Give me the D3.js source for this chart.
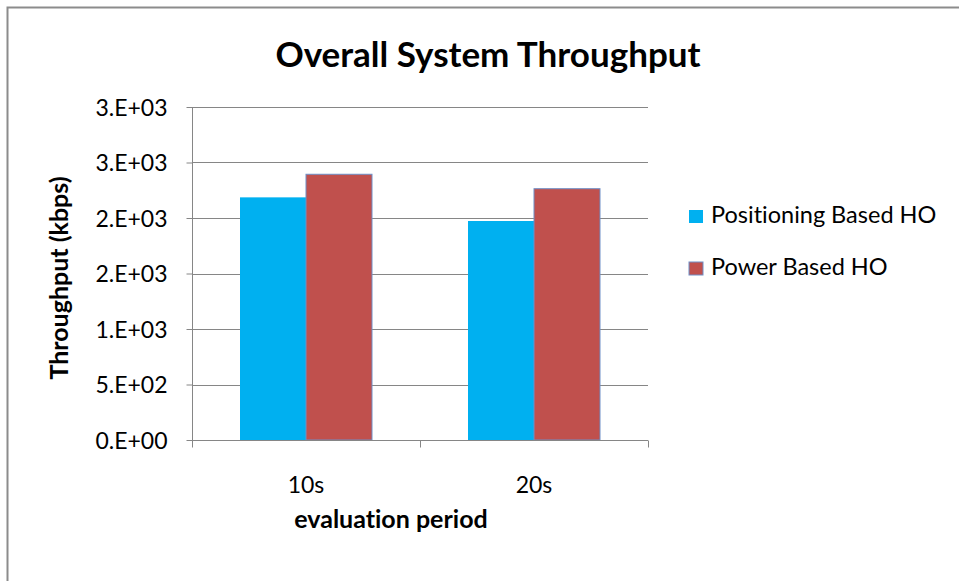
<!DOCTYPE html>
<html>
<head>
<meta charset="utf-8">
<script src="https://cdn.jsdelivr.net/npm/d3@7"></script>
<style>
  body { margin: 0; background: #fff; }
  svg { display: block; font-family: Lato, "Open Sans", sans-serif; font-variant-ligatures: none; }
  .axis path, .axis line { stroke: #868686; }
  .grid line { stroke: #868686; }
</style>
</head>
<body>
<div id="chart"></div>
<script>
var categories = ["10s", "20s"];
var series = ["Positioning Based HO", "Power Based HO"];
var positioning = [2186, 1973];
var power = [2394, 2264];
var tickValues = [0, 500, 1000, 1500, 2000, 2500, 3000];
var tickLabels = ["0.E+00", "5.E+02", "1.E+03", "2.E+03", "2.E+03", "3.E+03", "3.E+03"];
var colors = ["#00B0F0", "#C0504D"];

var data = categories.map(function(c, i) {
  return {cat: c, values: [positioning[i], power[i]]};
});

var margin = {top: 107, left: 192};
var width = 456, height = 333;

var svg = d3.select("#chart").append("svg")
  .attr("width", 959)
  .attr("height", 581);

// outer frame (only top and left edges visible)
svg.append("path")
  .attr("d", "M7.5,581V7.5H959")
  .attr("fill", "none")
  .attr("stroke", "#8c8c8c")
  .attr("stroke-width", 2);

var g = svg.append("g")
  .attr("transform", "translate(" + margin.left + "," + margin.top + ")");

var x0 = d3.scaleBand().domain(categories).range([0, width]).paddingInner(0).paddingOuter(0);
var x1 = d3.scaleBand().domain(series).range([48, x0.bandwidth() - 48]);
var y = d3.scaleLinear().domain([0, 3000]).range([height, 0]);
var z = d3.scaleOrdinal().domain(series).range(colors);

g.append("g")
  .attr("class", "grid")
  .selectAll("line")
  .data(tickValues.slice(1))
  .enter().append("line")
  .attr("x1", 0)
  .attr("x2", width)
  .attr("y1", function(d) { return Math.round(y(d)) + 0.5; })
  .attr("y2", function(d) { return Math.round(y(d)) + 0.5; });

g.append("g")
  .selectAll("g")
  .data(data)
  .enter().append("g")
  .attr("transform", function(d) { return "translate(" + x0(d.cat) + ",0)"; })
  .selectAll("rect")
  .data(function(d) { return d.values.map(function(v, i) { return {key: series[i], value: v}; }); })
  .enter().append("rect")
  .attr("x", function(d) { return x1(d.key); })
  .attr("y", function(d) { return y(d.value); })
  .attr("width", x1.bandwidth())
  .attr("height", function(d) { return height - y(d.value); })
  .attr("fill", function(d) { return z(d.key); })
  .attr("stroke", function(d) { return d.key === series[1] ? "#6f8fc7" : "none"; })
  .attr("stroke-width", 1);

// x axis line and tick marks between categories
var xa = g.append("g").attr("class", "axis").attr("transform", "translate(0," + (height + 0.5) + ")");
xa.append("line").attr("x1", 0).attr("x2", width).attr("stroke", "#868686");
xa.selectAll(".sep")
  .data([0].concat(categories.map(function(c) { return x0(c) + x0.bandwidth(); })))
  .enter().append("line")
  .attr("x1", function(d) { return Math.round(d) + 0.5; })
  .attr("x2", function(d) { return Math.round(d) + 0.5; })
  .attr("y1", 0)
  .attr("y2", 7)
  .attr("stroke", "#868686");

xa.selectAll(".lab")
  .data(categories)
  .enter().append("text")
  .attr("x", function(d) { return x0(d) + x0.bandwidth() / 2; })
  .attr("y", 52)
  .attr("text-anchor", "middle")
  .attr("font-size", 23)
  .attr("fill", "#000")
  .text(function(d) { return d; });

g.append("g")
  .attr("class", "axis")
  .attr("transform", "translate(0.5,0)")
  .call(d3.axisLeft(y).tickValues(tickValues).tickSize(6).tickPadding(19)
    .tickFormat(function(d, i) { return tickLabels[i]; }))
  .call(function(a) {
    a.selectAll("text").attr("font-size", 23).attr("fill", "#000")
      .attr("font-family", "Lato, sans-serif").attr("dy", "0.36em");
    a.select(".domain").attr("d", "M0,0V" + height);
  });

svg.append("text")
  .attr("x", 488)
  .attr("y", 67)
  .attr("text-anchor", "middle")
  .attr("font-size", 35)
  .attr("font-weight", "bold")
  .text("Overall System Throughput");

svg.append("text")
  .attr("transform", "translate(68,278) rotate(-90)")
  .attr("text-anchor", "middle")
  .attr("font-size", 25)
  .attr("font-weight", "bold")
  .text("Throughput (kbps)");

svg.append("text")
  .attr("x", 391)
  .attr("y", 528)
  .attr("text-anchor", "middle")
  .attr("font-size", 25)
  .attr("font-weight", "bold")
  .text("evaluation period");

var legend = svg.append("g")
  .selectAll("g")
  .data(series)
  .enter().append("g")
  .attr("transform", function(d, i) { return "translate(689," + (210 + i * 52) + ")"; });

legend.append("rect")
  .attr("width", 14)
  .attr("height", 13)
  .attr("fill", z)
  .attr("stroke", function(d, i) { return i === 1 ? "#6f8fc7" : "none"; });

legend.append("text")
  .attr("x", 22)
  .attr("y", 13)
  .attr("font-size", 23.5)
  .text(function(d) { return d; });
</script>
</body>
</html>
